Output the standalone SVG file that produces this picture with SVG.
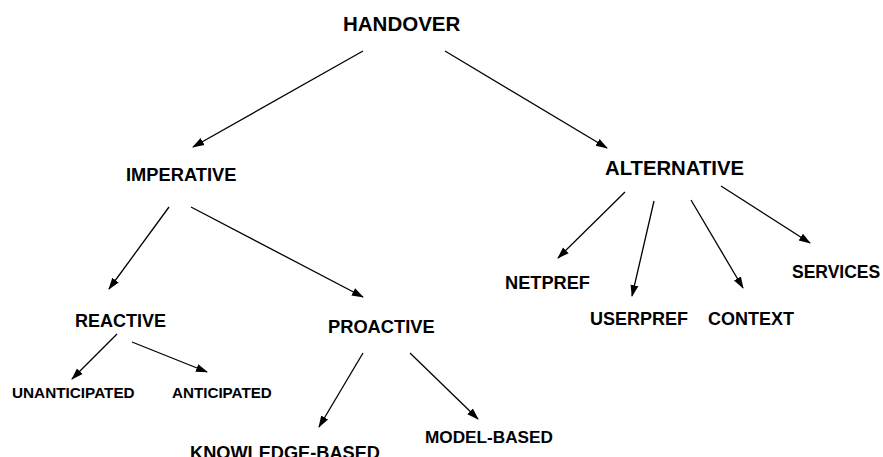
<svg xmlns="http://www.w3.org/2000/svg" width="883" height="457" viewBox="0 0 883 457">
<defs>
<style>
text{font-family:"Liberation Sans",Arial,sans-serif;font-weight:bold;fill:#000}
.l{stroke:#000;stroke-width:1.3;fill:none;marker-end:url(#ah)}
</style>
<marker id="ah" markerUnits="userSpaceOnUse" markerWidth="12" markerHeight="10" viewBox="0 0 12 10" refX="11" refY="5" orient="auto">
<path d="M0,1 L12,5 L0,9 Z" fill="#000"/>
</marker>
</defs>
<rect width="883" height="457" fill="#fff"/>
<g id="connectors">
<line class="l" x1="363" y1="51" x2="193" y2="147"/>
<line class="l" x1="445" y1="51" x2="607" y2="148"/>
<line class="l" x1="169" y1="207" x2="109" y2="289"/>
<line class="l" x1="191" y1="207" x2="363" y2="297"/>
<line class="l" x1="117" y1="334" x2="72" y2="379"/>
<line class="l" x1="132" y1="342" x2="207" y2="372"/>
<line class="l" x1="363" y1="353" x2="319" y2="427"/>
<line class="l" x1="410" y1="353" x2="478" y2="419"/>
<line class="l" x1="625" y1="192" x2="558" y2="258"/>
<line class="l" x1="654" y1="201" x2="632" y2="296"/>
<line class="l" x1="691" y1="200" x2="743" y2="288"/>
<line class="l" x1="721" y1="186" x2="810" y2="243"/>
</g>
<g id="handover"><text x="343" y="31" font-size="20.5">HANDOVER</text></g>
<g id="imperative"><text x="126" y="181" font-size="18.3">IMPERATIVE</text></g>
<g id="alternative"><text x="605" y="175" font-size="20.3">ALTERNATIVE</text></g>
<g id="reactive"><text x="75" y="327" font-size="18">REACTIVE</text></g>
<g id="proactive"><text x="328" y="333" font-size="18.3">PROACTIVE</text></g>
<g id="unanticipated"><text x="12" y="398" font-size="15.3">UNANTICIPATED</text></g>
<g id="anticipated"><text x="172" y="398" font-size="15.2">ANTICIPATED</text></g>
<g id="knowledge-based"><text x="190" y="459" font-size="18.2">KNOWLEDGE-BASED</text></g>
<g id="model-based"><text x="425" y="443" font-size="17.2">MODEL-BASED</text></g>
<g id="netpref"><text x="505" y="289" font-size="18.2">NETPREF</text></g>
<g id="userpref"><text x="590" y="325" font-size="18">USERPREF</text></g>
<g id="context"><text x="708" y="325" font-size="18">CONTEXT</text></g>
<g id="services"><text x="792" y="278" font-size="17.5">SERVICES</text></g>
</svg>
